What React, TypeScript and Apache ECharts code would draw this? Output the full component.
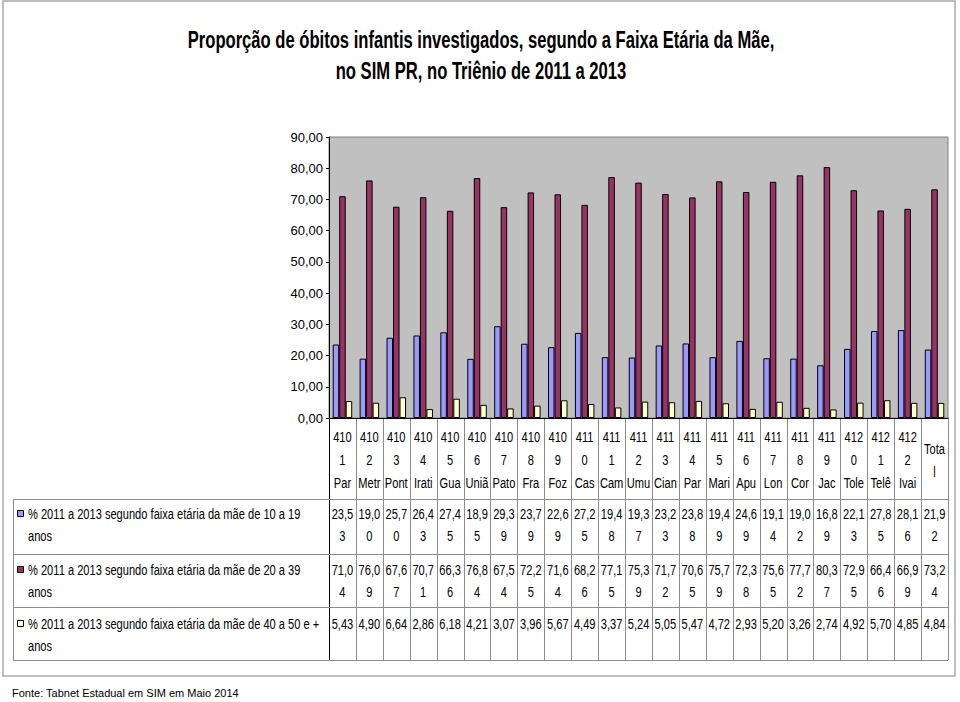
import React, { useEffect, useRef } from "react";
import * as echarts from "echarts";

const codes = ["4101","4102","4103","4104","4105","4106","4107","4108","4109","4110","4111","4112","4113","4114","4115","4116","4117","4118","4119","4120","4121","4122","Total"];
const names = ["Par","Metr","Pont","Irati","Gua","Uniã","Pato","Fra","Foz","Cas","Cam","Umu","Cian","Par","Mari","Apu","Lon","Cor","Jac","Tole","Telê","Ivai",""];

const seriesNames = [
  "% 2011 a 2013 segundo faixa etária da mãe de 10 a 19 anos",
  "% 2011 a 2013 segundo faixa etária da mãe de 20 a 39 anos",
  "% 2011 a 2013 segundo faixa etária da mãe de 40 a 50 e + anos",
];
const mae10a19 = [23.53,19.00,25.70,26.43,27.45,18.95,29.39,23.79,22.69,27.25,19.48,19.37,23.23,23.88,19.49,24.69,19.14,19.02,16.89,22.13,27.85,28.16,21.92];
const mae20a39 = [71.04,76.09,67.67,70.71,66.36,76.84,67.54,72.25,71.64,68.26,77.15,75.39,71.72,70.65,75.79,72.38,75.65,77.72,80.37,72.95,66.46,66.99,73.24];
const mae40a50 = [5.43,4.90,6.64,2.86,6.18,4.21,3.07,3.96,5.67,4.49,3.37,5.24,5.05,5.47,4.72,2.93,5.20,3.26,2.74,4.92,5.70,4.85,4.84];
const seriesValues = [mae10a19, mae20a39, mae40a50];
const colors = ["#9999FF", "#993366", "#FFFFCC"];

const titleLines = [
  "Proporção de óbitos infantis investigados, segundo a Faixa Etária da Mãe,",
  "no SIM PR, no Triênio de 2011 a 2013",
];
const sourceText = "Fonte: Tabnet Estadual em SIM em Maio 2014";

const SANS = "'Liberation Sans', Arial, sans-serif";
const SQUEEZE = 0.74;

const fmt = (v: number) => v.toFixed(2).replace(".", ",");
const cellText = (v: number) => {
  const s = fmt(v);
  return s.length > 4 ? s.slice(0, 4) + "\n" + s.slice(4) : s;
};
const headerText = (c: string, i: number) =>
  c === "Total" ? "Tota\nl" : c.slice(0, 3) + "\n" + c.slice(3) + "\n" + names[i];

export default function App() {
  const ref = useRef<HTMLDivElement>(null);
  useEffect(() => {
    const chart = echarts.init(ref.current!, null, { renderer: "svg" });
    const gridLeft = 329, gridTop = 137, gridRight = 948, gridBottom = 418;
    chart.setOption({
      animation: false,
      backgroundColor: "#ffffff",
      textStyle: { fontFamily: SANS },
      grid: {
        left: gridLeft, top: gridTop, width: gridRight - gridLeft, height: gridBottom - gridTop,
        containLabel: false, show: true, backgroundColor: "#C0C0C0", borderColor: "#808080", borderWidth: 1,
      },
      xAxis: {
        type: "category",
        data: codes,
        axisLine: { lineStyle: { color: "#000", width: 1 } },
        axisTick: { show: false },
        axisLabel: { show: false },
      },
      yAxis: {
        type: "value", min: 0, max: 90, interval: 10,
        axisLine: { show: true, lineStyle: { color: "#000" } },
        axisTick: { show: true, length: 3, lineStyle: { color: "#000" } },
        splitLine: { show: false },
        axisLabel: { formatter: (v: number) => fmt(v), fontSize: 13, color: "#000", margin: 6, fontFamily: SANS },
      },
      series: seriesValues.map((vals, k) => ({
        name: seriesNames[k],
        type: "bar",
        data: vals,
        barWidth: 6.5,
        barGap: "0%",
        itemStyle: { color: colors[k], borderColor: "#000", borderWidth: 1 },
      })),
    });

    const cx = (i: number) => chart.convertToPixel({ xAxisIndex: 0 }, i) as number;
    const colW = cx(1) - cx(0);
    const leftX = cx(0) - colW / 2;
    const rightX = leftX + colW * codes.length;
    const rowTops = [499, 554, 607];
    const tableBottom = 660;
    const rowTextY = [514, 570, 624];
    const lineGap = 22;
    const lineColor = "#8c8c8c";
    const font = `15px ${SANS}`;

    const els: any[] = [];
    // outer frame
    els.push({ type: "rect", shape: { x: 3, y: 1, width: 952, height: 675 }, style: { fill: "none", stroke: "#a8a8a8", lineWidth: 1.5 }, silent: true });
    // title
    titleLines.forEach((t, i) => {
      els.push({ type: "text", x: 481, y: 39 + i * 31, scaleX: 0.692, style: { text: t, font: `bold 24px ${SANS}`, fill: "#000", align: "center", verticalAlign: "middle" } });
    });
    // header (category) labels
    codes.forEach((c, i) => {
      const isTotal = c === "Total";
      els.push({ type: "text", x: cx(i), y: gridBottom + 7 + (isTotal ? 12 : 0), scaleX: SQUEEZE, style: { text: headerText(c, i), font, lineHeight: 23, fill: "#000", align: "center", verticalAlign: "top" } });
    });
    // vertical table lines
    for (let i = 0; i <= codes.length; i++) {
      const x = Math.round(leftX + i * colW) + 0.5;
      els.push({ type: "line", shape: { x1: x, y1: gridBottom, x2: x, y2: tableBottom }, style: { stroke: i === 0 ? "#000" : lineColor, lineWidth: 1 }, silent: true });
    }
    // horizontal table lines
    [...rowTops, tableBottom].forEach((y) => {
      els.push({ type: "line", shape: { x1: 13, y1: y + 0.5, x2: rightX, y2: y + 0.5 }, style: { stroke: lineColor, lineWidth: 1 }, silent: true });
    });
    els.push({ type: "line", shape: { x1: 13.5, y1: rowTops[0], x2: 13.5, y2: tableBottom }, style: { stroke: lineColor, lineWidth: 1 }, silent: true });
    // legend keys + names + values
    seriesNames.forEach((nm, k) => {
      const sp = nm.lastIndexOf(" ");
      const y = rowTextY[k];
      els.push({ type: "rect", shape: { x: 17.5, y: y - 3.5, width: 6, height: 6 }, style: { fill: colors[k], stroke: "#000", lineWidth: 1 } });
      els.push({ type: "text", x: 28, y: y - lineGap / 2, scaleX: SQUEEZE, style: { text: nm.slice(0, sp) + "\n" + nm.slice(sp + 1), font, lineHeight: lineGap, fill: "#000", align: "left", verticalAlign: "top" } });
      seriesValues[k].forEach((v, i) => {
        els.push({ type: "text", x: cx(i), y: y - lineGap / 2, scaleX: SQUEEZE, style: { text: cellText(v), font, lineHeight: lineGap, fill: "#000", align: "center", verticalAlign: "top" } });
      });
    });
    // source
    els.push({ type: "text", x: 12, y: 693, style: { text: sourceText, font: `11px ${SANS}`, fill: "#000", align: "left", verticalAlign: "middle" } });

    chart.setOption({ graphic: els });
    return () => chart.dispose();
  }, []);
  return <div ref={ref} style={{ position: "fixed", left: 0, top: 0, width: 960, height: 702 }} />;
}
